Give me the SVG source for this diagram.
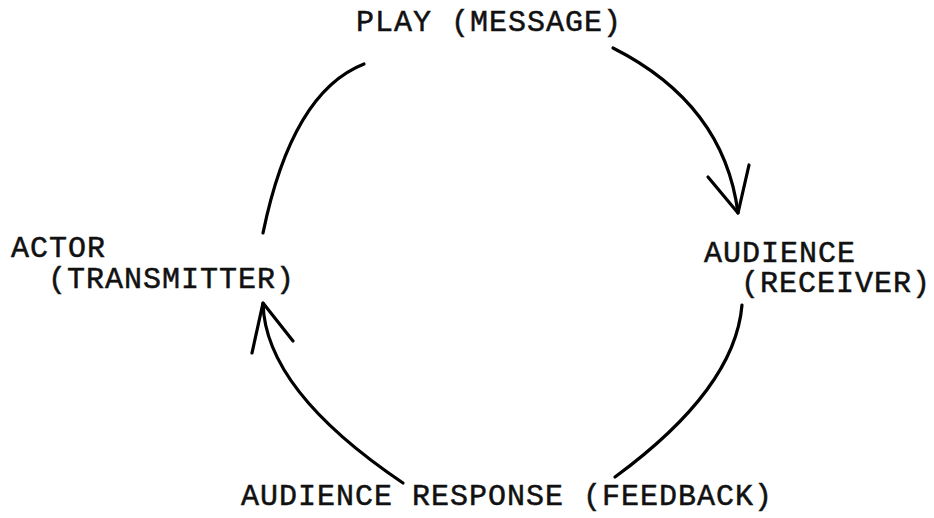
<svg xmlns="http://www.w3.org/2000/svg" width="934" height="518" viewBox="0 0 934 518">
<style>
.t{font-family:"Liberation Mono","Courier New",monospace;font-size:30px;letter-spacing:1px;fill:#111;stroke:#111;stroke-width:0.5}
.c{fill:none;stroke:#000;stroke-width:3.2;stroke-linecap:round;stroke-linejoin:round}
</style>
<rect width="934" height="518" fill="#fff"/>
<g id="play"><text class="t" x="356" y="31">PLAY (MESSAGE)</text></g>
<g id="actor"><text class="t" x="11" y="257">ACTOR</text><text class="t" x="48" y="288">(TRANSMITTER)</text></g>
<g id="audience"><text class="t" x="704" y="262">AUDIENCE</text><text class="t" x="741" y="292" letter-spacing="0.5">(RECEIVER)</text></g>
<g id="response"><text class="t" x="241" y="505">AUDIENCE RESPONSE (FEEDBACK)</text></g>
<g id="connectors">
<path class="c" d="M263,233 Q292,92 364,64"/>
<path class="c" d="M613,48 Q724,104 738,213"/>
<polyline class="c" points="708,177 738,213 749,165"/>
<path class="c" d="M742,305 Q735,389 615,477"/>
<path class="c" d="M403,483 Q265,390 263,303"/>
<polyline class="c" points="252,353 263,303 293,341"/>
</g>
</svg>
